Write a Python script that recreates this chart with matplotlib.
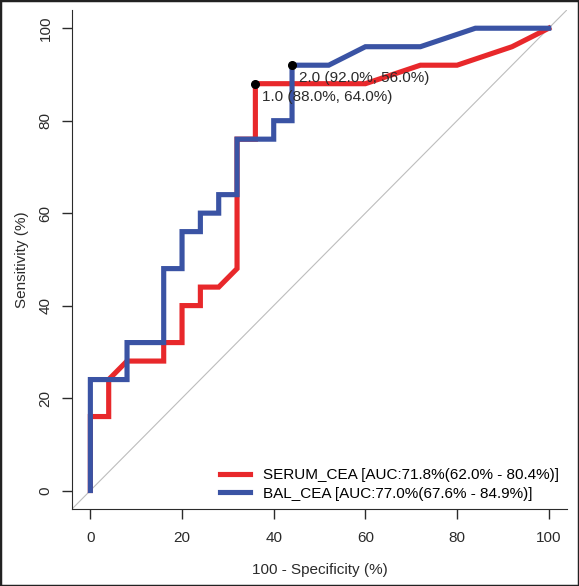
import matplotlib.pyplot as plt
from matplotlib.patches import Rectangle

plt.rcParams['font.family'] = ['Liberation Sans', 'DejaVu Sans']

# ROC 数据 (100 - 特异度, 灵敏度)
serum_fpr = [0, 0, 4, 4, 8, 16, 16, 20, 20, 24, 24, 28, 32, 32, 36, 36, 60, 72, 80, 92, 100]
serum_tpr = [0, 16, 16, 24, 28, 28, 32, 32, 40, 40, 44, 44, 48, 76, 76, 88, 88, 92, 92, 96, 100]
bal_fpr = [0, 0, 8, 8, 16, 16, 20, 20, 24, 24, 28, 28, 32, 32, 40, 40, 44, 44, 52, 60, 72, 84, 100]
bal_tpr = [0, 24, 24, 32, 32, 48, 48, 56, 56, 60, 60, 64, 64, 76, 76, 80, 80, 92, 92, 96, 96, 100, 100]

# 最佳阈值点
thr_points = [(36, 88, '1.0 (88.0%, 64.0%)'), (44, 92, '2.0 (92.0%, 56.0%)')]
labels = ['SERUM_CEA [AUC:71.8%(62.0% - 80.4%)]', 'BAL_CEA [AUC:77.0%(67.6% - 84.9%)]']
ticks = [0, 20, 40, 60, 80, 100]

fig = plt.figure(figsize=(5.79, 5.86), dpi=100)
ax = fig.add_axes([0.1244, 0.1314, 0.855, 0.852])

red = '#E8282B'
blue = '#3A53A4'
txt_col = '#2b2b2b'

ax.plot([-4, 104], [-4, 104], color='#BDBDBD', lw=0.8, zorder=1)
ax.plot(serum_fpr, serum_tpr, color=red, lw=3.7, solid_joinstyle='miter', label=labels[0], zorder=2)
ax.plot(bal_fpr, bal_tpr, color=blue, lw=3.7, solid_joinstyle='miter', label=labels[1], zorder=3)

for x, y, txt in thr_points:
    ax.plot(x, y, 'o', color='black', ms=5.5, zorder=4)
    ax.text(x + 1.5, y - 2.8, txt, fontsize=11, color=txt_col, ha='left', va='center', zorder=5)

ax.set_xlim(-4, 104)
ax.set_ylim(-4, 104)
ax.set_xticks(ticks)
ax.set_yticks(ticks)
ax.set_yticklabels([str(t) for t in ticks], rotation=90, va='center')
ax.tick_params(length=7, width=1, labelsize=11, colors=txt_col)
ax.tick_params(axis='x', pad=9)
ax.tick_params(axis='y', pad=7)
ax.spines['top'].set_visible(False)
ax.spines['right'].set_visible(False)
for s in ['left', 'bottom']:
    ax.spines[s].set_color(txt_col)

ax.set_xlabel('100 - Specificity (%)', fontsize=11, color=txt_col, labelpad=13)
ax.set_ylabel('Sensitivity (%)', fontsize=11, color=txt_col, labelpad=7)

ax.legend(loc='lower right', frameon=False, fontsize=11, handlelength=2.0,
          handletextpad=0.8, labelspacing=0.3, borderaxespad=0.15, borderpad=0.4)

fig.patches.append(Rectangle((0, 0), 1, 1, transform=fig.transFigure, fill=False,
                             edgecolor='#222222', lw=2.5))

fig.savefig('out.png', dpi=100)
